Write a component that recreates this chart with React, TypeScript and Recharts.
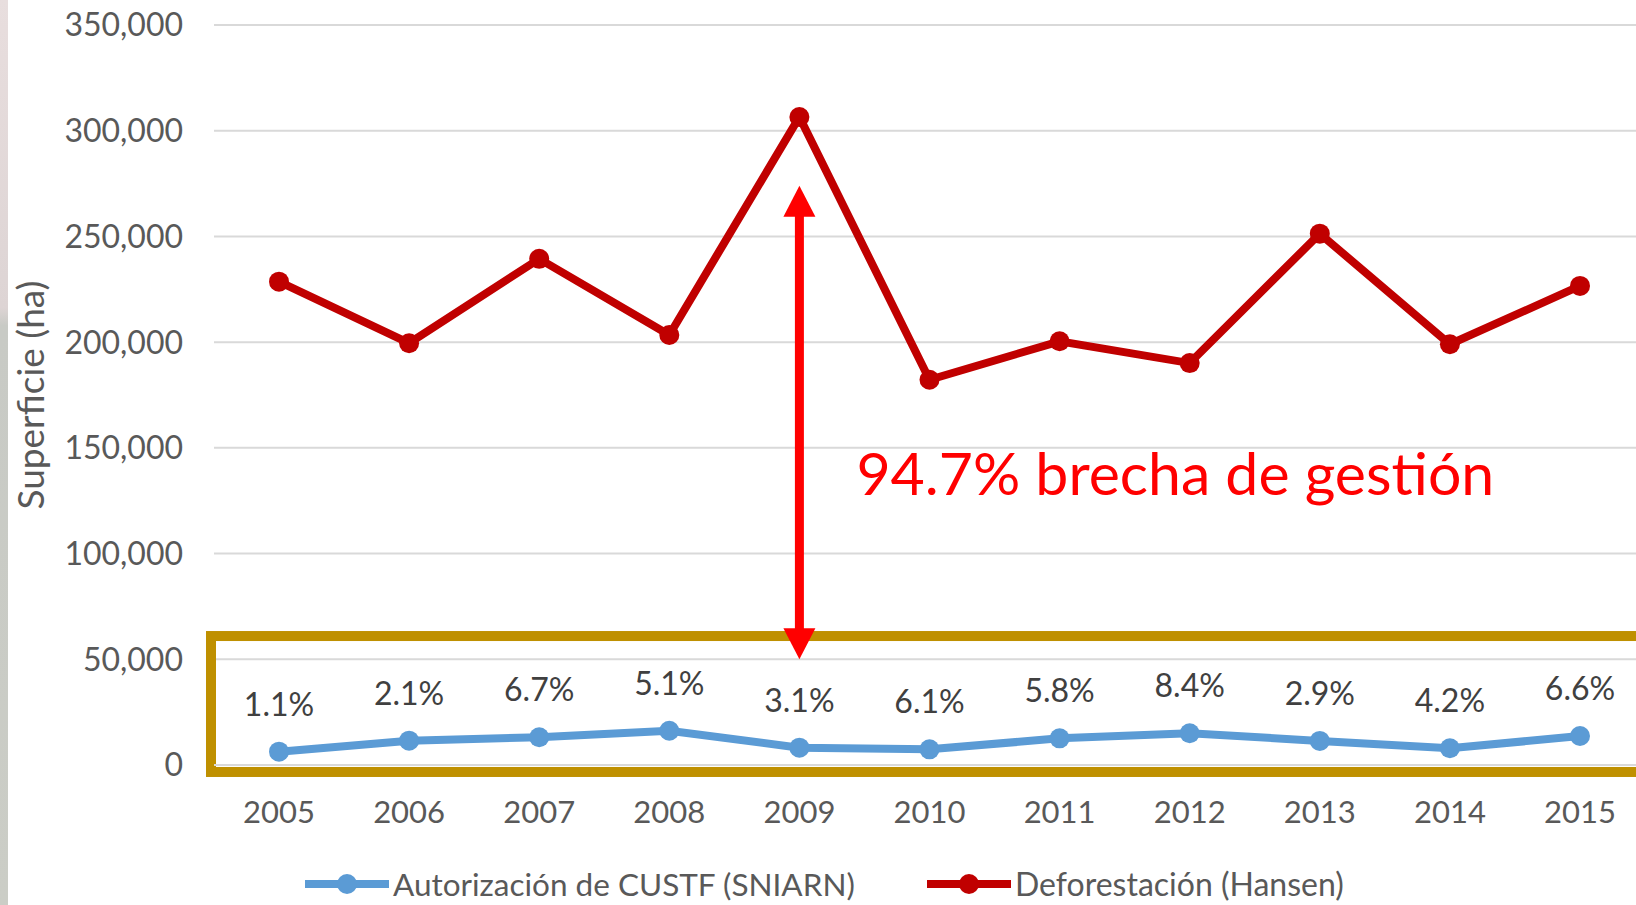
import React from 'react';
import {
  LineChart, Line, XAxis, YAxis, CartesianGrid, LabelList, ReferenceArea, ReferenceLine, ReferenceDot,
} from 'recharts';

// datos
const years = ['2005', '2006', '2007', '2008', '2009', '2010', '2011', '2012', '2013', '2014', '2015'];
const custf = [6300, 11500, 13100, 16200, 8200, 7400, 12600, 15000, 11400, 7900, 13700];
const hansen = [228600, 199500, 239400, 203400, 306500, 182200, 200400, 190100, 251300, 199000, 226600];
const pctLabels = ['1.1%', '2.1%', '6.7%', '5.1%', '3.1%', '6.1%', '5.8%', '8.4%', '2.9%', '4.2%', '6.6%'];
const yTicks = [0, 50000, 100000, 150000, 200000, 250000, 300000, 350000];

// anotaciones
const gapYear = '2009';
const gapRange = [50000, 274000];
const gapText = '94.7% brecha de gestión';
const gapTextY = 127700;
const boxRange = [-3300, 61000];

const data = years.map((y, i) => ({ year: y, custf: custf[i], hansen: hansen[i], pct: pctLabels[i] }));

const BLUE = '#5B9BD5';
const RED = '#C00000';
const GOLD = '#BF9000';
const FONT = 'Lato, "Open Sans", sans-serif';
const PAD = 65; // media banda por categoría

const Arrow = (p: any) => {
  const top = Math.min(p.y1, p.y2);
  const bot = Math.max(p.y1, p.y2);
  const x = p.x1;
  const h = 31, w = 16;
  return (
    <g>
      <line x1={x} y1={top + h - 2} x2={x} y2={bot - h + 2} stroke="#FF0000" strokeWidth={9} />
      <polygon points={`${x},${top} ${x - w},${top + h} ${x + w},${top + h}`} fill="#FF0000" />
      <polygon points={`${x},${bot} ${x - w},${bot - h} ${x + w},${bot - h}`} fill="#FF0000" />
    </g>
  );
};

// el recuadro dorado cubre todo el ancho del área de trazado
const GoldBox = (p: any) => (
  <rect x={p.x - PAD - 3} y={p.y} width={p.width + 2 * PAD + 40} height={p.height}
    fill="none" stroke={GOLD} strokeWidth={10} />
);

const GapText = (p: any) => (
  <text x={p.cx + 57} y={p.cy} fill="#FF0000" fontSize={59} fontFamily={FONT}>
    {gapText}
  </text>
);

const LegendIcon = ({ color }: { color: string }) => (
  <svg width={84} height={24} style={{ display: 'block' }}>
    <line x1={0} y1={12} x2={84} y2={12} stroke={color} strokeWidth={8} />
    <circle cx={42} cy={12} r={10} fill={color} />
  </svg>
);

const legendRow: React.CSSProperties = {
  position: 'absolute', top: 872, display: 'flex', alignItems: 'center',
  color: '#595959', fontSize: 31.5, lineHeight: '24px', whiteSpace: 'nowrap',
};

export default function App() {
  return (
    <div style={{ position: 'absolute', left: 0, top: 0, width: 1636, height: 905, overflow: 'hidden', background: '#fff', fontFamily: FONT }}>
      <div style={{ position: 'absolute', left: 0, top: 0, width: 8, height: 905, background: 'linear-gradient(#E8DEDE, #DDD4D4 34%, #C8CAC5 36%, #CBCDC6)' }} />
      <LineChart width={1645} height={905} data={data} margin={{ top: 25, right: 0, left: 0, bottom: 0 }}>
        <CartesianGrid vertical={false} stroke="#D9D9D9" strokeWidth={2} />
        <XAxis
          dataKey="year"
          interval={0}
          padding={{ left: PAD, right: PAD }}
          tickLine={false}
          axisLine={{ stroke: '#D9D9D9', strokeWidth: 2 }}
          tickMargin={30}
          height={140}
          tick={{ fill: '#595959', fontSize: 31, fontFamily: FONT }}
        />
        <YAxis
          domain={[0, 350000]}
          ticks={yTicks}
          width={214}
          axisLine={false}
          tickLine={false}
          tickMargin={25}
          tickFormatter={(v: number) => v.toLocaleString('en-US')}
          tick={{ fill: '#595959', fontSize: 32, fontFamily: FONT }}
          label={{
            value: 'Superficie (ha)', angle: -90, position: 'insideLeft', offset: 31,
            fill: '#595959', fontSize: 37, fontFamily: FONT, style: { textAnchor: 'middle' },
          }}
        />
        <ReferenceArea y1={boxRange[0]} y2={boxRange[1]} ifOverflow="visible" shape={GoldBox} />
        <Line dataKey="custf" stroke={BLUE} strokeWidth={8} dot={{ r: 10, fill: BLUE, stroke: BLUE, strokeWidth: 0 }} isAnimationActive={false}>
          <LabelList dataKey="pct" position="top" offset={36} fill="#404040" fontSize={32} fontFamily={FONT} />
        </Line>
        <Line dataKey="hansen" stroke={RED} strokeWidth={8} dot={{ r: 10, fill: RED, stroke: RED, strokeWidth: 0 }} isAnimationActive={false} />
        <ReferenceLine segment={[{ x: gapYear, y: gapRange[0] }, { x: gapYear, y: gapRange[1] }]} shape={Arrow} />
        <ReferenceDot x={gapYear} y={gapTextY} r={1} shape={GapText} />
      </LineChart>
      <div style={{ ...legendRow, left: 305 }}>
        <LegendIcon color={BLUE} />
        <span style={{ marginLeft: 4 }}>Autorización de CUSTF (SNIARN)</span>
      </div>
      <div style={{ ...legendRow, left: 927 }}>
        <LegendIcon color={RED} />
        <span style={{ marginLeft: 4, fontSize: 32 }}>Deforestación (Hansen)</span>
      </div>
    </div>
  );
}
